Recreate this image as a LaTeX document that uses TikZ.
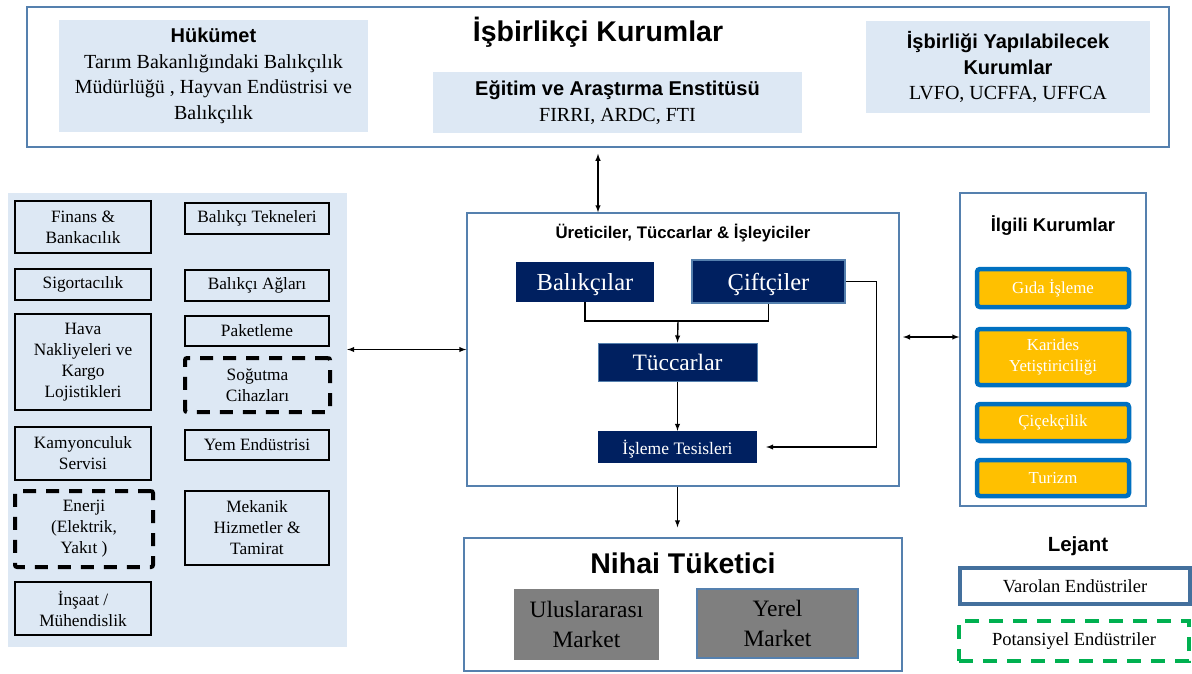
\documentclass[tikz,border=0pt]{standalone}
\usepackage{fontspec}
\setmainfont{Liberation Serif}
\setsansfont{Liberation Sans}
\usetikzlibrary{arrows}
\definecolor{cizgi}{HTML}{5580AE}
\definecolor{acik}{HTML}{DDE8F4}
\definecolor{lacivert}{HTML}{002060}
\definecolor{sari}{HTML}{FFC000}
\definecolor{mavi}{HTML}{0070C0}
\definecolor{gri}{HTML}{7F7F7F}
\definecolor{yesil}{HTML}{00B050}
\definecolor{koyu}{HTML}{44709D}
\newcommand{\yazi}[2]{\fontsize{#1}{#2}\selectfont}
\tikzset{ %inner sep = 0.5mm,
  >=latex,
  {cerceve/.style} ={draw=cizgi, line width=1.5pt, fill=white},
  {baslik/.style} ={font=\sffamily\bfseries\yazi{#1}{#1}, inner sep=0},
  {mavikutu/.style} ={fill=acik, align=center, font=\yazi{20}{25.5}},
  {kutu/.style} ={draw=black, line width=1.6pt, align=center,
                  font=\yazi{17.3}{21}, inner sep=1pt},
  {solkutu/.style} ={kutu, minimum width=136pt},
  {sagkutu/.style} ={kutu, minimum width=144pt},
  {yeni/.style} ={line width=4pt, dash pattern=on 13pt off 10pt,
                  rounded corners=2pt},
  {lacikutu/.style} ={fill=lacivert, text=white, align=center, text depth=0pt},
  {market/.style} ={fill=gri, align=center, font=\yazi{23.5}{30}},
  {sarikutu/.style} ={draw=mavi, line width=4.5pt, fill=sari,
                  rounded corners=3pt, text=white, align=center,
                  minimum width=152pt, font=\yazi{16.8}{21}},
  {ok/.style} ={line width=1.4pt},
}
\begin{document}
\begin{tikzpicture}[x=1pt,y=-1pt]
\useasboundingbox (0,0) rectangle (1192,673);
% isbirlikci kurumlar
\node[cerceve, minimum width=1142pt, minimum height=140pt] (ust) at (598,77) {};
\node[baslik=28.5] (ustbaslik) at (598,32) {İşbirlikçi Kurumlar};
\node[mavikutu, minimum width=309pt, minimum height=112pt] (hukumet) at (213.5,76)
  {{\sffamily\bfseries Hükümet}\\Tarım Bakanlığındaki Balıkçılık\\Müdürlüğü , Hayvan Endüstrisi ve\\Balıkçılık};
\node[mavikutu, minimum width=369pt, minimum height=61pt] (egitim) at (617.5,102.5)
  {{\sffamily\bfseries Eğitim ve Araştırma Enstitüsü}\\FIRRI, ARDC, FTI};
\node[mavikutu, minimum width=284pt, minimum height=92pt] (diger) at (1008,67)
  {{\sffamily\bfseries İşbirliği Yapılabilecek}\\{\sffamily\bfseries Kurumlar}\\LVFO, UCFFA, UFFCA};

% destek endustrileri
\node[fill=acik, minimum width=339pt, minimum height=454pt] (sol) at (177.5,420) {};
\node[solkutu, minimum height=52pt] (finans) at (83,227) {Finans \&\\Bankacılık};
\node[solkutu, minimum height=31pt] (sigorta) at (83,284.5) {Sigortacılık};
\node[solkutu, minimum height=96pt] (hava) at (83,362) {Hava\\Nakliyeleri ve\\Kargo\\Lojistikleri};
\node[solkutu, minimum height=53pt] (kamyon) at (83,453.5) {Kamyonculuk\\Servisi};
\node[solkutu, yeni, minimum width=138pt, minimum height=76pt] (enerji) at (84,529) {Enerji\\(Elektrik,\\Yakıt )};
\node[solkutu, minimum height=53pt] (insaat) at (83,608.5) {İnşaat /\\Mühendislik};
\node[sagkutu, minimum height=31pt] (tekne) at (257,218.5) {Balıkçı Tekneleri};
\node[sagkutu, minimum height=31pt] (ag) at (257,285.5) {Balıkçı Ağları};
\node[sagkutu, minimum height=30pt] (paket) at (257,331) {Paketleme};
\node[sagkutu, yeni, minimum width=145pt, minimum height=54pt] (sogutma) at (257.5,385) {Soğutma\\Cihazları};
\node[sagkutu, minimum height=30pt] (yem) at (257,445) {Yem Endüstrisi};
\node[sagkutu, minimum height=74pt] (mekanik) at (257,528) {Mekanik\\Hizmetler \&\\Tamirat};

% ureticiler
\node[cerceve, minimum width=432pt, minimum height=273pt] (uretici) at (683,349.5) {};
\node[baslik=16.8] (uretbaslik) at (683,233) {Üreticiler, Tüccarlar \& İşleyiciler};
\node[lacikutu, minimum width=138pt, minimum height=40pt, font=\yazi{24.5}{24}] (balik) at (585,282) {Balıkçılar};
\node[lacikutu, draw=cizgi, line width=1.5pt, minimum width=153pt, minimum height=43pt, font=\yazi{24.5}{24}] (ciftci) at (768.5,281.5) {Çiftçiler};
\node[lacikutu, draw=cizgi, line width=1pt, minimum width=159pt, minimum height=38pt, font=\yazi{23.5}{23}] (tuccar) at (677.5,362) {Tüccarlar};
\node[lacikutu, minimum width=159pt, minimum height=32pt, font=\yazi{17.5}{17}] (isleme) at (677.5,447) {İşleme Tesisleri};
\coordinate (birles) at (678,321);
\draw[ok] (balik.south) -- (balik.south |- birles) -- (ciftci.south |- birles) -- (ciftci.south);
\draw[ok,->] (birles) -- (tuccar.north);
\draw[ok,->] (tuccar) -- (isleme);
\draw[ok,->,shorten >=9pt] (ciftci.east) -- ++(31,0) |- (isleme.east);

% nihai tuketici
\node[cerceve, minimum width=438pt, minimum height=133pt] (nihai) at (683,604.5) {};
\node[baslik=28.5] (nihaibaslik) at (683,563) {Nihai Tüketici};
\node[market, minimum width=145pt, minimum height=71pt] (ulus) at (586.5,624.5) {Uluslararası\\Market};
\node[market, draw=cizgi, line width=1.5pt, minimum width=161pt, minimum height=69pt] (yerel) at (777.5,623.5) {Yerel\\Market};

% ilgili kurumlar
\node[cerceve, minimum width=186pt, minimum height=313pt] (ilgili) at (1053,349.5) {};
\node[baslik=18.5] (ilgilibaslik) at (1053,226) {İlgili Kurumlar};
\node[sarikutu, minimum height=38pt] (gida) at (1053,288) {Gıda İşleme};
\node[sarikutu, minimum height=56pt] (karides) at (1053,357) {Karides\\Yetiştiriciliği};
\node[sarikutu, minimum height=37pt] (cicek) at (1053,422.5) {Çiçekçilik};
\node[sarikutu, minimum height=36pt] (turizm) at (1053,478) {Turizm};

% baglantilar
\draw[ok,<->,shorten <=6pt] (ustbaslik |- ust.south) -- (ustbaslik |- uretici.north);
\draw[ok,<->] (sol.east |- uretici.west) -- (uretici.west);
\coordinate (sagok) at (903,337);
\draw[ok,<->] (sagok) -- (sagok -| ilgili.west);
\draw[ok,->,shorten >=10pt] (uretici.south -| tuccar) -- (nihai.north -| tuccar);

% lejant
\node[baslik=20.5] (lejant) at (1078,546) {Lejant};
\node[draw=koyu, line width=4pt, minimum width=230pt, minimum height=36pt, font=\yazi{18.5}{18}] (varolan) at (1075,586) {Varolan Endüstriler};
\node[draw=yesil, yeni, line width=3.5pt, dash pattern=on 14pt off 10pt, rounded corners=0pt, minimum width=230pt, minimum height=40pt, font=\yazi{18.5}{18}] (potansiyel) at (1074,641) {Potansiyel Endüstriler};
\end{tikzpicture}
\end{document}
